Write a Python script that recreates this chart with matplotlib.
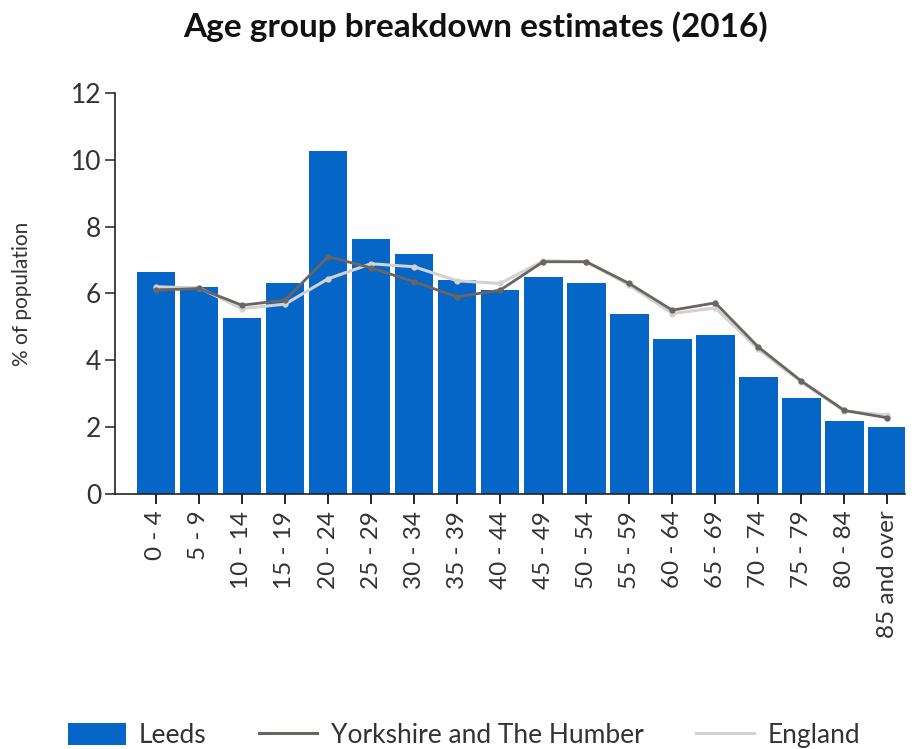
import matplotlib
matplotlib.use("Agg")
import matplotlib.pyplot as plt
import numpy as np
from matplotlib.patches import Patch
from matplotlib.lines import Line2D

age_groups = ["0 - 4", "5 - 9", "10 - 14", "15 - 19", "20 - 24", "25 - 29",
              "30 - 34", "35 - 39", "40 - 44", "45 - 49", "50 - 54", "55 - 59",
              "60 - 64", "65 - 69", "70 - 74", "75 - 79", "80 - 84", "85 and over"]

leeds = [6.65, 6.2, 5.27, 6.32, 10.27, 7.63, 7.19, 6.4, 6.1,
         6.5, 6.32, 5.39, 4.64, 4.76, 3.5, 2.87, 2.19, 2.0]
yorkshire = [6.1, 6.15, 5.65, 5.8, 7.1, 6.77, 6.35, 5.9, 6.1,
             6.95, 6.95, 6.3, 5.5, 5.72, 4.4, 3.38, 2.5, 2.28]
england = [6.2, 6.17, 5.55, 5.68, 6.44, 6.89, 6.8, 6.38, 6.3,
           6.98, 6.95, 6.25, 5.4, 5.57, 4.33, 3.35, 2.48, 2.36]

bar_colour = "#0566c8"
yorks_colour = "#6b6461"
eng_colour = "#d2d2d2"

plt.rcParams["font.family"] = ["Lato", "DejaVu Sans"]

fig = plt.figure(figsize=(9.24, 7.49), dpi=100)
ax = fig.add_axes([0.1245, 0.3405, 0.8545, 0.5353])

x = np.arange(len(age_groups))
ax.bar(x, leeds, width=0.9, color=bar_colour, zorder=2)
ax.plot(x, yorkshire, color=yorks_colour, lw=2, marker="o", ms=3.5, zorder=4)
ax.plot(x, england, color=eng_colour, lw=2.2, marker="o", ms=3.5, zorder=3)

ax.set_ylim(0, 12)
ax.set_xlim(-0.95, len(age_groups) - 1 + 0.4)
ax.set_yticks(range(0, 13, 2))
ax.set_xticks(x)
ax.set_xticklabels(age_groups, rotation=90, fontsize=17.5, color="#333333")
ax.tick_params(axis="y", labelsize=19, length=7, width=1.2, colors="#333333", pad=3)
ax.tick_params(axis="x", length=7, width=1.2, pad=5)

for side in ("top", "right"):
    ax.spines[side].set_visible(False)
for side in ("left", "bottom"):
    ax.spines[side].set_linewidth(1.2)
    ax.spines[side].set_color("#222222")

ax.set_ylabel("% of population", fontsize=15, color="#333333", labelpad=28)
fig.suptitle("Age group breakdown estimates (2016)", fontsize=24,
             fontweight="bold", y=0.985, x=0.515, color="#111111")

handles = [Patch(facecolor=bar_colour, label="Leeds"),
           Line2D([], [], color=yorks_colour, lw=2.2, label="Yorkshire and The Humber"),
           Line2D([], [], color=eng_colour, lw=2.2, label="England")]
fig.legend(handles=handles, loc="lower center", bbox_to_anchor=(0.502, -0.03),
           ncol=3, frameon=False, fontsize=19, handlelength=2.2,
           handleheight=0.9, columnspacing=2.0, handletextpad=0.5,
           labelcolor="#333333")

fig.savefig("out.png", dpi=100)
